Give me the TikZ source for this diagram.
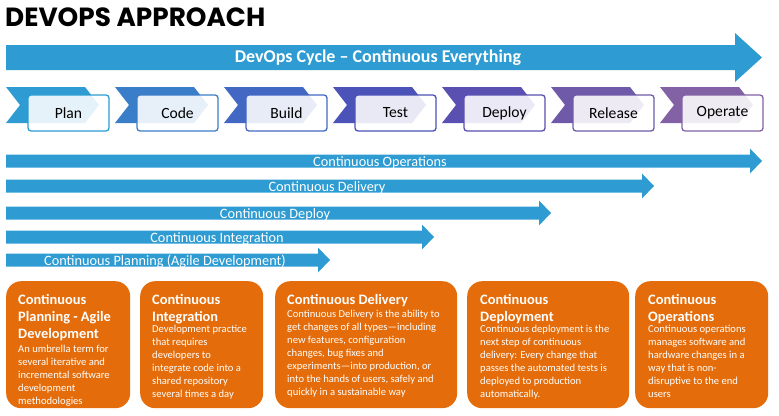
\documentclass[tikz,border=0pt]{standalone}
\usepackage{fontspec}
\setmainfont{Carlito}
\newfontfamily\headfont{Poppins}
\definecolor{cyclebl}{HTML}{2E9CD2}
\definecolor{stA}{HTML}{2E9CD2}
\definecolor{stB}{HTML}{3A7DC9}
\definecolor{stC}{HTML}{4368C4}
\definecolor{stD}{HTML}{4B52B8}
\definecolor{stE}{HTML}{5A50B1}
\definecolor{stF}{HTML}{6E5AA8}
\definecolor{stG}{HTML}{8262A4}
\definecolor{boxor}{HTML}{E46C0A}
\begin{document}
\begin{tikzpicture}[x=1pt,y=-1pt,
  bararrow/.style={fill=cyclebl,draw=none},
  barlabel/.style={anchor=base,text=white,inner sep=0pt,font=\fontsize{14.3}{16}\selectfont},
  stagebox/.style={rounded corners=3pt,line width=1.3pt,fill=white,fill opacity=0.88,
    draw opacity=1,text opacity=1,minimum width=81pt,minimum height=36pt,inner sep=0pt,
    font=\fontsize{15.6}{17}\selectfont},
  obox/.style={fill=boxor,draw=none,rounded corners=15pt,anchor=north west,inner sep=0pt},
  otitle/.style={anchor=north west,inner sep=0pt,text=white,align=left,
    font=\fontsize{14.4}{17}\selectfont\bfseries},
  obody/.style={anchor=north west,inner sep=0pt,text=white,align=left,
    font=\fontsize{10.6}{13}\selectfont}]
\useasboundingbox (0,0) rectangle (779,415);

% heading
\node[anchor=base west,inner sep=0pt,font=\headfont\bfseries\fontsize{26.3}{26}\selectfont] (title) at (5,26) {DEVOPS APPROACH};

% overall cycle arrow
\fill[cyclebl] (6,45) -- (735,45) -- (735,33) -- (762,57.5) -- (735,82) -- (735,70) -- (6,70) -- cycle;
\node[text=white,inner sep=0pt,font=\fontsize{18}{20}\selectfont\bfseries] (cycle) at (378,57.5) {DevOps Cycle -- Continuous Everything};

% stage chevrons with their labels
\foreach \i/\c/\lbl in {0/stA/Plan,1/stB/Code,2/stC/Build,3/stD/Test,4/stE/Deploy,5/stF/Release,6/stG/Operate}{
  \pgfmathsetmacro\xa{6+109*\i}
  \fill[\c] (\xa,87) -- (\xa+79,87) -- (\xa+93,105) -- (\xa+79,123) -- (\xa,123) -- (\xa+14,105) -- cycle;
  \node[stagebox,draw=\c] (stage\i) at (\xa+62.5,113) {\lbl};
}

% continuous practice arrows
\foreach \name/\yc/\hx/\lx/\lbl in {ops/161/750/380/Continuous Operations,
    del/186/642/327/Continuous Delivery,
    dep/213/539/275/Continuous Deploy,
    int/237/422/217/Continuous Integration,
    pla/260/318/165/Continuous Planning (Agile Development)}{
  \fill[bararrow] (6,\yc-6.5) -- (\hx,\yc-6.5) -- (\hx,\yc-12.5) -- (\hx+12,\yc) -- (\hx,\yc+12.5) -- (\hx,\yc+6.5) -- (6,\yc+6.5) -- cycle;
  \node[barlabel] (\name) at (\lx,\yc+5) {\lbl};
}

% description boxes
\node[obox,minimum width=124pt,minimum height=127pt] (box1) at (6,281) {};
\node[obox,minimum width=123pt,minimum height=127pt] (box2) at (140,281) {};
\node[obox,minimum width=182pt,minimum height=127pt] (box3) at (275,281) {};
\node[obox,minimum width=162pt,minimum height=127pt] (box4) at (467,281) {};
\node[obox,minimum width=133pt,minimum height=127pt] (box5) at (635,281) {};

\node[otitle] (t1) at (18,294) {Continuous\\Planning - Agile\\Development};
\node[obody] (b1) at (18,345) {An umbrella term for\\several iterative and\\incremental software\\development\\methodologies};

\node[otitle] (t2) at (152,294) {Continuous\\Integration};
\node[obody] (b2) at (152,325) {Development practice\\that requires\\developers to\\integrate code into a\\shared repository\\several times a day};

\node[otitle] (t3) at (287,294) {Continuous Delivery};
\node[obody] (b3) at (287,310) {Continuous Delivery is the ability to\\get changes of all types---including\\new features, configuration\\changes, bug fixes and\\experiments---into production, or\\into the hands of users, safely and\\quickly in a sustainable way};

\node[otitle] (t4) at (480,294) {Continuous\\Deployment};
\node[obody] (b4) at (480,325) {Continuous deployment is the\\next step of continuous\\delivery: Every change that\\passes the automated tests is\\deployed to production\\automatically.};

\node[otitle] (t5) at (648,294) {Continuous\\Operations};
\node[obody] (b5) at (648,325) {Continuous operations\\manages software and\\hardware changes in a\\way that is non-\\disruptive to the end\\users};
\end{tikzpicture}
\end{document}
